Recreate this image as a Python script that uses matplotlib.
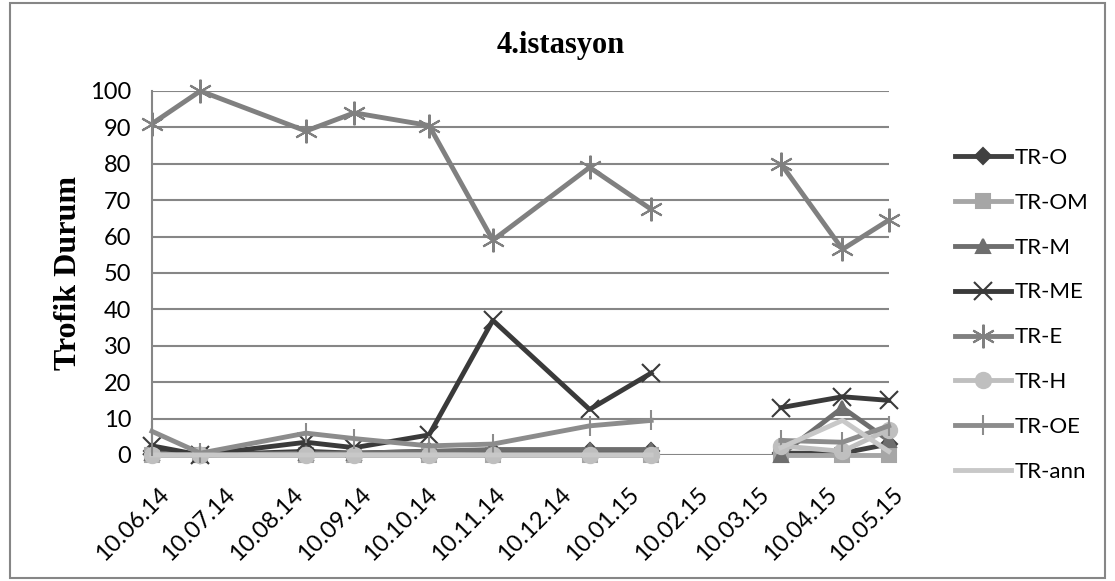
import numpy as np
import matplotlib.pyplot as plt
import matplotlib.dates as mdates
import matplotlib.transforms as mtransforms
from matplotlib.patches import Rectangle
from datetime import datetime

nan = np.nan

dates = ["10.06.14", "02.07.14", "19.08.14", "10.09.14", "14.10.14", "12.11.14",
         "26.12.14", "23.01.15", "20.02.15", "23.03.15", "20.04.15", "11.05.15"]
tr_o = [1, 0, 1, 0.5, 1, 1, 1, 1, nan, 0.5, 0.5, 3]
tr_om = [0, 0, 0, 0, 0, 0, 0, 0, nan, 0, 0, 0]
tr_m = [0.5, 0, 0.5, 0.5, 1, 1.5, 1.5, 1.5, nan, 0, 13, 4]
tr_me = [2.5, 0, 3.5, 2, 5.5, 37, 12.5, 22.5, nan, 13, 16, 15]
tr_e = [91, 100, 89, 94, 90.5, 59, 79, 67.5, nan, 80, 56.5, 64.5]
tr_h = [0, 0, 0, 0, 0, 0, 0, 0, nan, 2.5, 1, 7]
tr_oe = [6.5, 0.5, 6, 4.5, 2.5, 3, 8, 9.5, nan, 4, 3.5, 8]
tr_ann = [0, 0, 0, 0, 0, 0, 0, 0, nan, 2, 9.5, 1]

x = [datetime.strptime(d, "%d.%m.%y") for d in dates]

series = [
    ("TR-O", tr_o, "#404040", "D", 8),
    ("TR-OM", tr_om, "#a6a6a6", "s", 10),
    ("TR-M", tr_m, "#6e6e6e", "^", 10),
    ("TR-ME", tr_me, "#3a3a3a", "x", 13),
    ("TR-E", tr_e, "#808080", (6, 2, 0), 17),
    ("TR-H", tr_h, "#bfbfbf", "o", 11),
    ("TR-OE", tr_oe, "#8c8c8c", "|", 15),
    ("TR-ann", tr_ann, "#c8c8c8", None, 0),
]

sans = ["Lato", "DejaVu Sans"]
serif = ["Liberation Serif", "DejaVu Serif"]

fig = plt.figure(figsize=(11.15, 5.81), dpi=100)
ax = fig.add_axes([0.1363, 0.2169, 0.797 - 0.1363, 0.8434 - 0.2169])

for name, vals, col, mk, ms in series:
    ax.plot(x, vals, color=col, lw=3.5, marker=mk, markersize=ms,
            markeredgewidth=1.5, markeredgecolor=col, label=name, clip_on=False)

ax.set_ylim(0, 100)
ax.set_yticks(range(0, 101, 10))
ax.set_xlim(x[0], x[-1])
ticks = [datetime(2014 + (5 + i) // 12, (5 + i) % 12 + 1, 10) for i in range(12)]
ax.set_xticks(ticks)
ax.xaxis.set_major_formatter(mdates.DateFormatter("%d.%m.%y"))

ax.tick_params(axis="y", length=0, pad=15)
ax.tick_params(axis="x", length=0, pad=10)

# excel puts the rotated labels a bit right of the tick
shift = mtransforms.ScaledTranslation(6 / 100, -15 / 100, fig.dpi_scale_trans)
for lab in ax.get_xticklabels():
    lab.set_rotation(45)
    lab.set_ha("right")
    lab.set_rotation_mode("anchor")
    lab.set_transform(lab.get_transform() + shift)

for lab in ax.get_xticklabels() + ax.get_yticklabels():
    lab.set_family(sans)
    lab.set_fontsize(17)

ax.grid(axis="y", color="#868686", lw=1.5)
ax.set_axisbelow(True)
for s in ["top", "right", "bottom"]:
    ax.spines[s].set_visible(False)
ax.spines["left"].set_color("#868686")
ax.spines["left"].set_linewidth(1.5)

ax.set_ylabel("Trofik Durum", family=serif, fontweight="bold", fontsize=23, labelpad=5)
fig.text(0.503, 0.922, "4.istasyon", family=serif, fontweight="bold", fontsize=22,
         ha="center", va="center")

fig.legend(loc="upper left", bbox_to_anchor=(0.839, 0.78), frameon=False,
           prop={"family": sans, "size": 16}, labelspacing=1.12, handlelength=2.5,
           handletextpad=0.15)

fig.patches.append(Rectangle((10 / 1115, 3 / 581), 1095 / 1115, 575 / 581, fill=False,
                             edgecolor="#868686", lw=1.5, transform=fig.transFigure))

fig.savefig("out.png", dpi=100)
